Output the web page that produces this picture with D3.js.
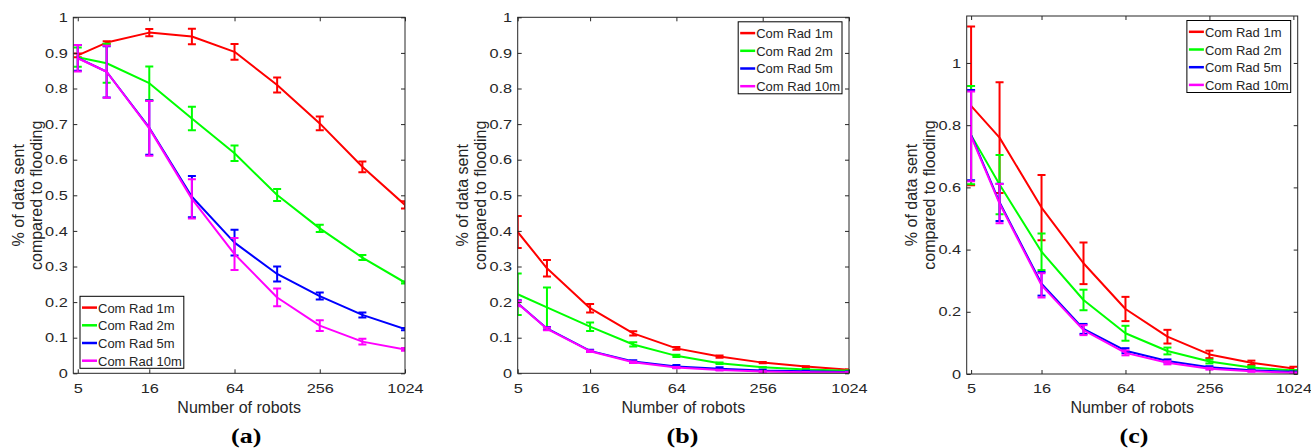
<!DOCTYPE html>
<html>
<head>
<meta charset="utf-8">
<script src="https://cdn.jsdelivr.net/npm/d3@7"></script>
<style>
  html, body { margin: 0; padding: 0; background: #fff; }
  svg { display: block; }
</style>
</head>
<body>
<div id="chart"></div>
<script>
// ---------------- DATA ----------------
const robots = [5, 8, 16, 32, 64, 128, 256, 512, 1024];
const seriesNames = ["Com Rad 1m", "Com Rad 2m", "Com Rad 5m", "Com Rad 10m"];
const seriesColors = ["#ff0000", "#00ff00", "#0000ff", "#ff00ff"];
const xTickValues = [5, 16, 64, 256, 1024];
const yTicksAB = [0, 0.1, 0.2, 0.3, 0.4, 0.5, 0.6, 0.7, 0.8, 0.9, 1];
const yTicksC = [0, 0.2, 0.4, 0.6, 0.8, 1];
const panelLabels = ["(a)", "(b)", "(c)"];
const xLabel = "Number of robots";
const yLabelLines = ["% of data sent", "compared to flooding"];

// Panel (a)
const a_rad1     = [0.893, 0.929, 0.957, 0.946, 0.903, 0.810, 0.702, 0.580, 0.473];
const a_rad1Err  = [0.005, 0.004, 0.010, 0.022, 0.022, 0.021, 0.019, 0.015, 0.010];
const a_rad2     = [0.888, 0.871, 0.815, 0.716, 0.618, 0.501, 0.407, 0.325, 0.255];
const a_rad2Err  = [0.027, 0.055, 0.047, 0.033, 0.022, 0.017, 0.010, 0.007, 0.003];
const a_rad5     = [0.886, 0.847, 0.690, 0.496, 0.367, 0.279, 0.217, 0.164, 0.124];
const a_rad5Err  = [0.036, 0.072, 0.076, 0.058, 0.036, 0.021, 0.010, 0.007, 0.003];
const a_rad10    = [0.885, 0.847, 0.688, 0.490, 0.335, 0.213, 0.134, 0.089, 0.067];
const a_rad10Err = [0.037, 0.073, 0.077, 0.055, 0.045, 0.025, 0.015, 0.008, 0.004];

// Panel (b)
const b_rad1     = [0.397, 0.295, 0.183, 0.112, 0.070, 0.047, 0.030, 0.019, 0.010];
const b_rad1Err  = [0.045, 0.023, 0.012, 0.006, 0.004, 0.003, 0.002, 0.001, 0.001];
const b_rad2     = [0.222, 0.185, 0.131, 0.081, 0.049, 0.028, 0.017, 0.011, 0.007];
const b_rad2Err  = [0.058, 0.056, 0.012, 0.006, 0.003, 0.002, 0.001, 0.001, 0.001];
const b_rad5     = [0.197, 0.126, 0.063, 0.033, 0.019, 0.013, 0.008, 0.006, 0.004];
const b_rad5Err  = [0.008, 0.004, 0.003, 0.004, 0.004, 0.004, 0.002, 0.001, 0.001];
const b_rad10    = [0.196, 0.125, 0.062, 0.031, 0.016, 0.009, 0.005, 0.003, 0.002];
const b_rad10Err = [0.008, 0.004, 0.002, 0.002, 0.002, 0.001, 0.001, 0.001, 0.001];

// Panel (c)
const c_rad1     = [0.862, 0.760, 0.535, 0.356, 0.209, 0.120, 0.063, 0.036, 0.018];
const c_rad1Err  = [0.255, 0.178, 0.105, 0.067, 0.039, 0.022, 0.012, 0.007, 0.005];
const c_rad2     = [0.768, 0.609, 0.393, 0.238, 0.131, 0.074, 0.040, 0.021, 0.011];
const c_rad2Err  = [0.158, 0.095, 0.059, 0.033, 0.024, 0.011, 0.006, 0.004, 0.002];
const c_rad5     = [0.768, 0.552, 0.290, 0.145, 0.075, 0.042, 0.022, 0.012, 0.007];
const c_rad5Err  = [0.145, 0.060, 0.038, 0.016, 0.008, 0.005, 0.003, 0.002, 0.001];
const c_rad10    = [0.764, 0.548, 0.285, 0.141, 0.068, 0.036, 0.017, 0.009, 0.004];
const c_rad10Err = [0.144, 0.063, 0.039, 0.016, 0.008, 0.005, 0.003, 0.002, 0.001];

// -------------- LAYOUT -----------------
const W = 1311, H = 448;
const FONT = "'Liberation Sans', Arial, Helvetica, sans-serif";
const AXC = "#262626";
const TICK_SX = 1.36;

const panels = [
  { means: [a_rad1, a_rad2, a_rad5, a_rad10], errs: [a_rad1Err, a_rad2Err, a_rad5Err, a_rad10Err],
    left: 73.3, right: 405, top: 17.3, bottom: 373.3, xDom: [4.65, 1024], yDom: [0, 1], yTicks: yTicksAB,
    legend: "bottomleft", label: panelLabels[0], labelX: 246.2 },
  { means: [b_rad1, b_rad2, b_rad5, b_rad10], errs: [b_rad1Err, b_rad2Err, b_rad5Err, b_rad10Err],
    left: 517.7, right: 849, top: 17.3, bottom: 373.3, xDom: [5, 1024], yDom: [0, 1], yTicks: yTicksAB,
    legend: "topright", label: panelLabels[1], labelX: 682.5 },
  { means: [c_rad1, c_rad2, c_rad5, c_rad10], errs: [c_rad1Err, c_rad2Err, c_rad5Err, c_rad10Err],
    left: 966.7, right: 1297.7, top: 16, bottom: 374, xDom: [4.65, 1100], yDom: [0, 1.151], yTicks: yTicksC,
    legend: "topright", label: panelLabels[2], labelX: 1134 }
];

const svg = d3.select("#chart").append("svg")
  .attr("width", W).attr("height", H)
  .attr("viewBox", `0 0 ${W} ${H}`);
svg.append("rect").attr("width", W).attr("height", H).attr("fill", "#fff");

panels.forEach((p, pi) => {
  const x = d3.scaleLog().base(2).domain(p.xDom).range([p.left, p.right]);
  const y = d3.scaleLinear().domain(p.yDom).range([p.bottom, p.top]);
  const g = svg.append("g");

  const clipId = "clip" + pi;
  svg.append("clipPath").attr("id", clipId)
    .append("rect").attr("x", p.left).attr("y", p.top)
    .attr("width", p.right - p.left).attr("height", p.bottom - p.top);

  const plot = g.append("g").attr("clip-path", `url(#${clipId})`);

  // series
  p.means.forEach((vals, si) => {
    const col = seriesColors[si];
    const line = d3.line().x((d, i) => x(robots[i])).y(d => y(d));
    plot.append("path").datum(vals)
      .attr("d", line).attr("fill", "none")
      .attr("stroke", col).attr("stroke-width", 2)
      .attr("stroke-linejoin", "round");
    const errs = p.errs[si];
    const eb = plot.append("g").attr("stroke", col).attr("stroke-width", 2).attr("fill", "none");
    vals.forEach((v, i) => {
      const cx = x(robots[i]);
      const yt = y(v + errs[i]), yb = y(v - errs[i]);
      const cw = 4;
      eb.append("line").attr("x1", cx).attr("x2", cx).attr("y1", yt).attr("y2", yb);
      eb.append("line").attr("x1", cx - cw).attr("x2", cx + cw).attr("y1", yt).attr("y2", yt);
      eb.append("line").attr("x1", cx - cw).attr("x2", cx + cw).attr("y1", yb).attr("y2", yb);
    });
  });

  // axes box
  g.append("rect").attr("x", p.left).attr("y", p.top)
    .attr("width", p.right - p.left).attr("height", p.bottom - p.top)
    .attr("fill", "none").attr("stroke", AXC).attr("stroke-width", 1);

  // axes with inward ticks
  const xAxisB = d3.axisBottom(x).tickValues(xTickValues).tickFormat(d3.format("d"))
    .tickSizeInner(-4).tickSizeOuter(0);
  const gxb = g.append("g").attr("transform", `translate(0,${p.bottom})`).call(xAxisB);
  const xAxisT = d3.axisTop(x).tickValues(xTickValues).tickFormat("")
    .tickSizeInner(-4).tickSizeOuter(0);
  const gxt = g.append("g").attr("transform", `translate(0,${p.top})`).call(xAxisT);

  const yAxisL = d3.axisLeft(y).tickValues(p.yTicks).tickFormat(d => d3.format("")(+d.toFixed(2)))
    .tickSizeInner(-4).tickSizeOuter(0);
  const gyl = g.append("g").attr("transform", `translate(${p.left},0)`).call(yAxisL);
  const yAxisR = d3.axisRight(y).tickValues(p.yTicks).tickFormat("")
    .tickSizeInner(-4).tickSizeOuter(0);
  const gyr = g.append("g").attr("transform", `translate(${p.right},0)`).call(yAxisR);

  [gxb, gxt, gyl, gyr].forEach(ax => {
    ax.select(".domain").remove();
    ax.selectAll(".tick line").attr("stroke", AXC);
    ax.selectAll(".tick text").attr("fill", AXC)
      .style("font-family", FONT).style("font-size", "12px");
  });
  gxb.selectAll(".tick text")
    .attr("x", 0).attr("y", 0).attr("dy", null)
    .attr("transform", `translate(0,19.2) scale(${TICK_SX},1)`);
  gyl.selectAll(".tick text")
    .attr("x", 0).attr("dy", "0.35em")
    .attr("transform", `translate(-5.5,0) scale(${TICK_SX},1)`);

  // x label
  g.append("text").attr("x", (p.left + p.right) / 2).attr("y", 413)
    .attr("text-anchor", "middle").attr("fill", AXC)
    .style("font-family", FONT).style("font-size", "16px")
    .text(xLabel);

  // y label (two lines)
  const ymid = (p.top + p.bottom) / 2;
  yLabelLines.forEach((t, li) => {
    const lx = p.left - 49.5 + li * 18;
    g.append("text")
      .attr("transform", `translate(${lx},${ymid}) rotate(-90)`)
      .attr("text-anchor", "middle").attr("fill", AXC)
      .style("font-family", FONT).style("font-size", "16px")
      .text(t);
  });

  // panel caption
  g.append("text")
    .attr("transform", `translate(${p.labelX},442.5) scale(1.3,1)`)
    .attr("text-anchor", "middle").attr("fill", "#000")
    .style("font-family", "'Liberation Serif', 'Times New Roman', serif")
    .style("font-weight", "bold").style("font-size", "20px")
    .text(p.label);

  // legend
  const rowH = 17.7;
  const lg = g.append("g");
  const box = lg.append("rect").attr("fill", "#fff").attr("stroke", "#000").attr("stroke-width", 1);
  const items = lg.append("g");
  let maxW = 0;
  seriesNames.forEach((name, si) => {
    const ry = 11.3 + si * rowH;
    items.append("line").attr("x1", 2).attr("x2", 17).attr("y1", ry).attr("y2", ry)
      .attr("stroke", seriesColors[si]).attr("stroke-width", 2.5);
    const t = items.append("text").attr("x", 18).attr("y", ry + 5)
      .attr("fill", AXC).style("font-family", FONT).style("font-size", "13px").text(name);
    maxW = Math.max(maxW, t.node().getComputedTextLength());
  });
  const bw = 18 + maxW + 2, bh = 72;
  box.attr("x", 0).attr("y", 0).attr("width", bw).attr("height", bh);
  let lx0, ly0;
  if (p.legend === "topright") { lx0 = p.right - 7 - bw; ly0 = p.top + 4.5; }
  else { lx0 = p.left + 6.7; ly0 = p.bottom - 5 - bh; }
  lg.attr("transform", `translate(${lx0},${ly0})`);
});
</script>
</body>
</html>
